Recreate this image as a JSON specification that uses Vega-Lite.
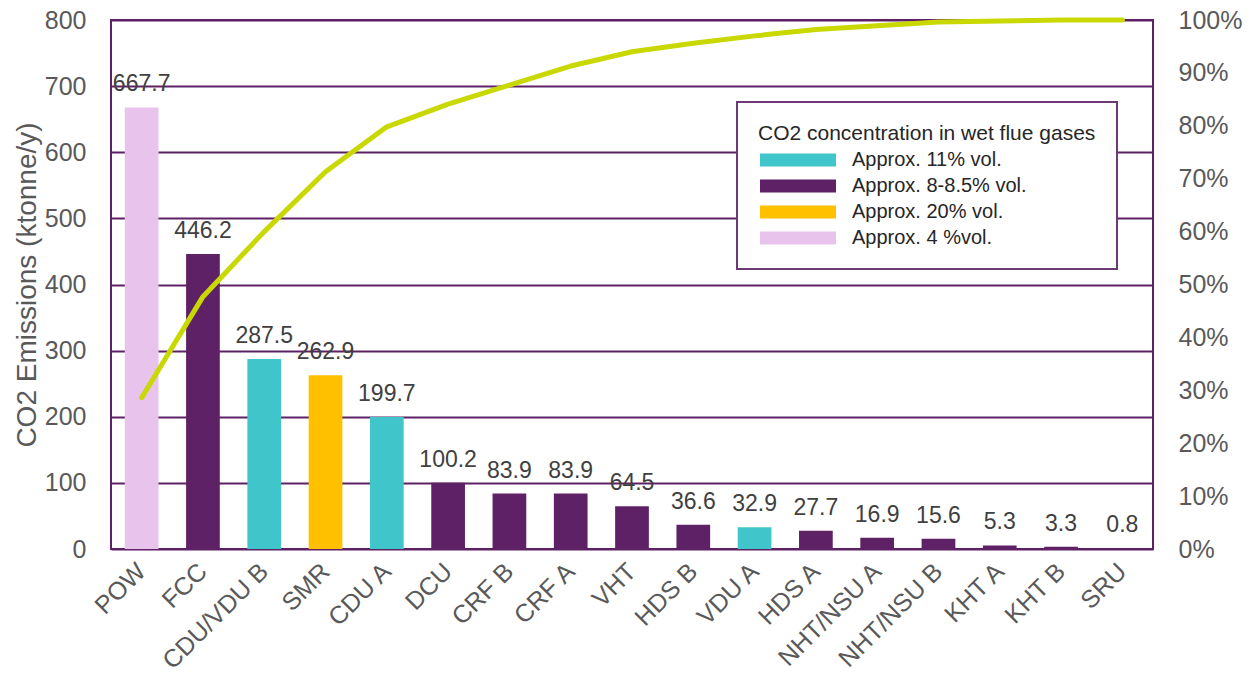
{
  "$schema": "https://vega.github.io/schema/vega-lite/v6.json",
  "width": 1042,
  "height": 529,
  "autosize": {"type": "none"},
  "padding": {"left": 111, "top": 20, "right": 106, "bottom": 137},
  "background": "white",
  "config": {
    "font": "Liberation Sans",
    "view": {"stroke": "#5E2165", "strokeWidth": 2},
    "axis": {"labelFont": "Liberation Sans", "titleFont": "Liberation Sans"},
    "legend": {"strokeWidth": 2}
  },
  "data": {
    "values": [
      {"unit": "POW", "emissions": 667.7, "conc": "Approx. 4 %vol.", "cum": 0.286},
      {"unit": "FCC", "emissions": 446.2, "conc": "Approx. 8-8.5% vol.", "cum": 0.477},
      {"unit": "CDU/VDU B", "emissions": 287.5, "conc": "Approx. 11% vol.", "cum": 0.600},
      {"unit": "SMR", "emissions": 262.9, "conc": "Approx. 20% vol.", "cum": 0.713},
      {"unit": "CDU A", "emissions": 199.7, "conc": "Approx. 11% vol.", "cum": 0.798},
      {"unit": "DCU", "emissions": 100.2, "conc": "Approx. 8-8.5% vol.", "cum": 0.841},
      {"unit": "CRF B", "emissions": 83.9, "conc": "Approx. 8-8.5% vol.", "cum": 0.877},
      {"unit": "CRF A", "emissions": 83.9, "conc": "Approx. 8-8.5% vol.", "cum": 0.913},
      {"unit": "VHT", "emissions": 64.5, "conc": "Approx. 8-8.5% vol.", "cum": 0.940},
      {"unit": "HDS B", "emissions": 36.6, "conc": "Approx. 8-8.5% vol.", "cum": 0.956},
      {"unit": "VDU A", "emissions": 32.9, "conc": "Approx. 11% vol.", "cum": 0.970},
      {"unit": "HDS A", "emissions": 27.7, "conc": "Approx. 8-8.5% vol.", "cum": 0.982},
      {"unit": "NHT/NSU A", "emissions": 16.9, "conc": "Approx. 8-8.5% vol.", "cum": 0.989},
      {"unit": "NHT/NSU B", "emissions": 15.6, "conc": "Approx. 8-8.5% vol.", "cum": 0.996},
      {"unit": "KHT A", "emissions": 5.3, "conc": "Approx. 8-8.5% vol.", "cum": 0.998},
      {"unit": "KHT B", "emissions": 3.3, "conc": "Approx. 8-8.5% vol.", "cum": 1.0},
      {"unit": "SRU", "emissions": 0.8, "conc": "Approx. 8-8.5% vol.", "cum": 1.0}
    ]
  },
  "encoding": {
    "x": {
      "field": "unit",
      "type": "nominal",
      "sort": null,
      "scale": {"paddingInner": 0.45, "paddingOuter": 0.225},
      "axis": {
        "title": null,
        "labelAngle": -45,
        "labelAlign": "right",
        "labelBaseline": "middle",
        "labelFontSize": 25,
        "labelColor": "#595959",
        "labelPadding": 18,
        "labelLimit": 300,
        "ticks": false,
        "domain": false
      }
    }
  },
  "layer": [
    {
      "encoding": {
        "y": {
          "field": "emissions",
          "type": "quantitative",
          "scale": {"domain": [0, 800], "nice": false},
          "axis": {
            "title": "CO2 Emissions (ktonne/y)",
            "titleFontSize": 28,
            "titleFontWeight": "normal",
            "titleColor": "#595959",
            "titlePadding": 3,
            "values": [0, 100, 200, 300, 400, 500, 600, 700, 800],
            "labelFontSize": 25,
            "labelColor": "#595959",
            "labelPadding": 25,
            "ticks": false,
            "domain": false,
            "grid": true,
            "gridColor": "#5E2165",
            "gridWidth": 2
          }
        }
      },
      "layer": [
        {
          "mark": {"type": "bar"},
          "encoding": {
            "color": {
              "field": "conc",
              "type": "nominal",
              "scale": {
                "domain": ["Approx. 11% vol.", "Approx. 8-8.5% vol.", "Approx. 20% vol.", "Approx. 4 %vol."],
                "range": ["#40C5CB", "#5E2165", "#FFC000", "#E8C4EC"]
              },
              "legend": {
                "title": "CO2 concentration in wet flue gases",
                "orient": "none",
                "legendX": 626,
                "legendY": 82,
                "titleFontSize": 21,
                "titleFontWeight": "normal",
                "titleColor": "#262626",
                "titlePadding": 6,
                "titleLimit": 500,
                "labelFontSize": 20,
                "labelColor": "#262626",
                "labelLimit": 400,
                "labelOffset": 74,
                "symbolType": "M-1,-0.8125H8.5V0.8125H-1Z",
                "symbolSize": 256,
                "symbolStrokeWidth": 0,
                "symbolOpacity": 1,
                "rowPadding": 6,
                "padding": 21,
                "strokeColor": "#6D3A75",
                "fillColor": "white"
              }
            }
          }
        },
        {
          "mark": {"type": "text", "baseline": "alphabetic", "dy": -16, "fontSize": 23, "color": "#404040"},
          "encoding": {
            "text": {"field": "emissions", "type": "quantitative", "format": ".1f"}
          }
        }
      ]
    },
    {
      "mark": {"type": "line", "color": "#C9D800", "strokeWidth": 5, "strokeCap": "round", "strokeJoin": "round"},
      "encoding": {
        "y": {
          "field": "cum",
          "type": "quantitative",
          "scale": {"domain": [0, 1], "nice": false},
          "axis": {
            "orient": "right",
            "title": null,
            "format": ".0%",
            "values": [0, 0.1, 0.2, 0.3, 0.4, 0.5, 0.6, 0.7, 0.8, 0.9, 1],
            "labelFontSize": 25,
            "labelColor": "#595959",
            "labelPadding": 25,
            "ticks": false,
            "domain": false,
            "grid": false
          }
        }
      }
    }
  ],
  "resolve": {"scale": {"y": "independent"}}
}
